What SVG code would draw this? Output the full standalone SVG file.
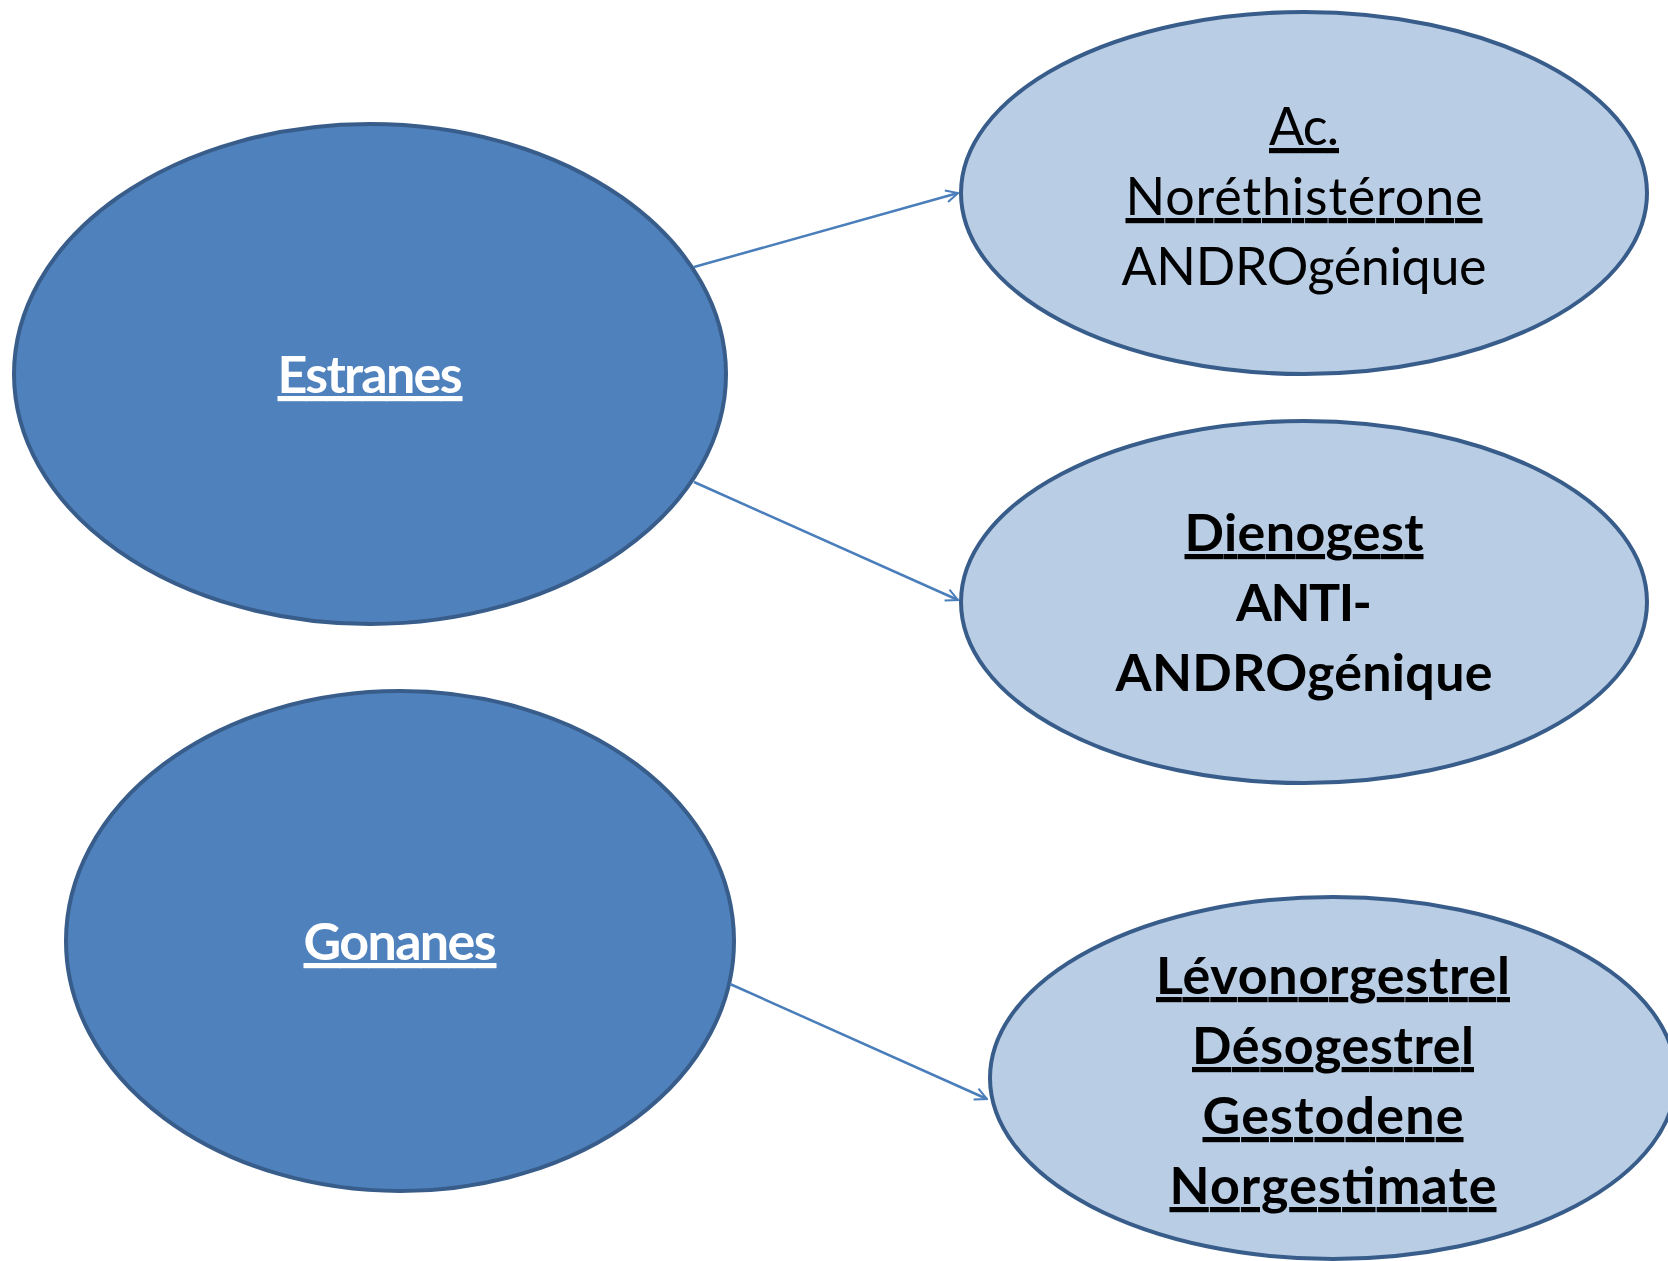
<svg xmlns="http://www.w3.org/2000/svg" width="1668" height="1261" viewBox="0 0 1668 1261">
<defs>
<style>
.dark{fill:#4F81BD;stroke:#385D8A;stroke-width:4}
.light{fill:#B9CDE5;stroke:#385D8A;stroke-width:4}
text{font-family:Lato,"Noto Sans","Liberation Sans",sans-serif;font-size:52px;text-anchor:middle;fill:#000}
.w{fill:#fff;font-weight:bold;text-decoration:underline}
.b{font-weight:bold}
.u{text-decoration:underline}
.conn line{stroke:#4A7EBB;stroke-width:2.5;fill:none}
</style>
<marker id="arr" viewBox="0 0 14 14" refX="13" refY="7" markerWidth="14" markerHeight="14" markerUnits="userSpaceOnUse" orient="auto">
<path d="M1,1 L13,7 L1,13" fill="none" stroke="#4A7EBB" stroke-width="2"/>
</marker>
</defs>
<rect width="1668" height="1261" fill="#fff"/>
<g id="estranes">
<ellipse class="dark" cx="370" cy="374" rx="356" ry="250"/>
<text class="w" x="370" y="393" textLength="185">Estranes</text>
</g>
<g id="gonanes">
<ellipse class="dark" cx="400" cy="941" rx="334" ry="250"/>
<text class="w" x="400" y="960" textLength="193">Gonanes</text>
</g>
<g id="noreth">
<ellipse class="light" cx="1304" cy="193" rx="343" ry="181"/>
<text class="u" x="1304" y="145" textLength="70">Ac.</text>
<text class="u" x="1304" y="215" textLength="357">Noréthistérone</text>
<text x="1304" y="285" textLength="365">ANDROgénique</text>
</g>
<g id="dienogest">
<ellipse class="light" cx="1304" cy="602" rx="343" ry="181"/>
<text class="b u" x="1304" y="551" textLength="239">Dienogest</text>
<text class="b" x="1304" y="621" textLength="136">ANTI-</text>
<text class="b" x="1304" y="691" textLength="377">ANDROgénique</text>
</g>
<g id="gonanes-list">
<ellipse class="light" cx="1333" cy="1078" rx="343" ry="181"/>
<text class="b u" x="1333" y="994" textLength="354">Lévonorgestrel</text>
<text class="b u" x="1333" y="1064" textLength="282">Désogestrel</text>
<text class="b u" x="1333" y="1134" textLength="261">Gestodene</text>
<text class="b u" x="1333" y="1204" textLength="327">Norgestimate</text>
</g>
<g id="connectors" class="conn">
<line x1="694" y1="267" x2="958" y2="193" marker-end="url(#arr)"/>
<line x1="694" y1="482" x2="958" y2="600" marker-end="url(#arr)"/>
<line x1="730" y1="984" x2="987" y2="1099" marker-end="url(#arr)"/>
</g>
</svg>
